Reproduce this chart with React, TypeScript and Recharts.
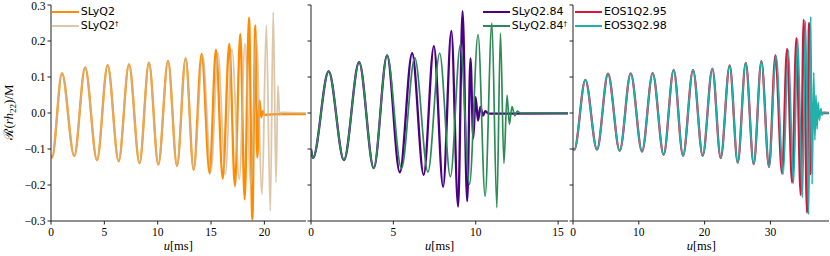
import React from 'react'
import { LineChart, Line, XAxis, YAxis } from 'recharts'

type Pt = [number, number]

// tick values
const yTicks = [-0.3, -0.2, -0.1, 0, 0.1, 0.2, 0.3]
const xTicks1 = [0, 5, 10, 15, 20]
const xTicks2 = [0, 5, 10, 15]
const xTicks3 = [0, 10, 20, 30]

// extrema of the waveforms: [u (ms), Re(r h22)/M]
const slyShared: Pt[] = [
  [0, -0.117], [0.1, -0.124], [1.03, 0.111], [2.18, -0.12], [3.2, 0.127], [4.31, -0.131],
  [5.31, 0.133], [6.34, -0.134], [7.31, 0.135], [8.3, -0.139], [9.18, 0.14], [10.06, -0.143],
  [10.97, 0.145], [11.81, -0.147], [12.62, 0.152], [13.37, -0.158],
]
const slyTail: Pt[] = [
  [14.12, 0.164], [14.87, -0.168], [15.46, 0.176], [16.1, -0.182], [16.71, 0.192], [17.24, -0.203],
  [17.74, 0.22], [18.15, -0.24], [18.56, 0.265], [18.87, -0.296], [19.15, 0.243], [19.33, -0.124],
  [19.55, 0.034], [19.7, -0.012], [19.85, 0.005], [20.0, -0.005], [21.5, -0.003], [23.9, -0.003],
]
const slyDagTail: Pt[] = [
  [14.22, 0.16], [15.0, -0.162], [15.65, 0.166], [16.34, -0.17], [16.96, 0.176], [17.65, -0.184],
  [18.18, 0.192], [18.74, -0.203], [19.24, 0.211], [19.78, -0.226], [20.18, 0.243], [20.55, -0.272],
  [20.83, 0.28], [21.09, -0.193], [21.27, 0.076], [21.43, -0.006], [21.6, 0.002], [23.9, 0],
]

const sly84Shared: Pt[] = [
  [0, -0.1], [0.12, -0.125], [1.07, 0.116], [2.0, -0.131], [2.92, 0.141], [3.81, -0.153], [4.62, 0.16],
]
const sly84Tail: Pt[] = [
  [5.39, -0.165], [6.14, 0.166], [6.84, -0.172], [7.46, 0.186], [8.02, -0.205], [8.52, 0.228],
  [8.93, -0.26], [9.2, 0.283], [9.48, -0.245], [9.68, 0.152], [9.85, -0.07], [9.99, 0.044],
  [10.14, -0.021], [10.28, 0.017], [10.44, -0.007], [10.58, 0.005], [10.8, -0.002], [15.6, -0.001],
]
const sly84DagTail: Pt[] = [
  [5.49, -0.154], [6.3, 0.153], [7.1, -0.164], [7.81, 0.166], [8.46, -0.177], [9.07, 0.19],
  [9.62, -0.198], [10.14, 0.218], [10.57, -0.231], [10.98, 0.25], [11.28, -0.263], [11.5, 0.222],
  [11.71, -0.14], [11.9, 0.05], [12.04, -0.031], [12.2, 0.018], [12.37, -0.008], [12.52, 0.005],
  [12.7, 0], [15.6, 0],
]

const eosShared: Pt[] = [
  [0, -0.098], [0.2, -0.102], [1.88, 0.092], [3.65, -0.102], [5.32, 0.109], [7.1, -0.105],
  [8.77, 0.11], [10.49, -0.107], [12.11, 0.111], [13.78, -0.116], [15.3, 0.12], [16.72, -0.119],
  [18.24, 0.12], [19.71, -0.119], [21.18, 0.123], [22.44, -0.125], [23.81, 0.132], [25.03, -0.138],
  [26.25, 0.139], [27.46, -0.142], [28.63, 0.144], [29.79, -0.15],
]
const eos1Tail: Pt[] = [
  [30.76, 0.16], [31.77, -0.168], [32.53, 0.178], [33.29, -0.193], [33.95, 0.208], [34.6, -0.228],
  [35.06, 0.259], [35.56, -0.277], [35.87, 0.25], [36.07, -0.17], [36.25, 0.03], [36.42, -0.02],
  [36.6, 0.01], [36.8, 0], [38.9, 0],
]
const eos3Tail: Pt[] = [
  [30.85, 0.158], [31.95, -0.17], [32.73, 0.175], [33.5, -0.196], [34.15, 0.205], [34.86, -0.235],
  [35.33, 0.255], [35.8, -0.282], [36.13, 0.268], [36.33, -0.198], [36.58, 0.113], [36.75, -0.075],
  [36.92, 0.05], [37.08, -0.045], [37.25, 0.03], [37.45, -0.02], [37.65, 0.012], [37.85, -0.006],
  [38.1, 0.002], [38.9, 0],
]

const rows = (pts: Pt[]) => pts.map(([u, v]) => ({ u, v }))

interface Series {
  name: string
  dagger?: boolean
  pts: Pt[]
  color: string
  width: number
  opacity?: number
}

const panel1: Series[] = [
  { name: 'SLyQ2', pts: [...slyShared, ...slyTail], color: '#ff8c00', width: 2.3 },
  { name: 'SLyQ2', dagger: true, pts: [...slyShared, ...slyDagTail], color: '#d2b48c', width: 1.8, opacity: 0.75 },
]
const panel2: Series[] = [
  { name: 'SLyQ2.84', pts: [...sly84Shared, ...sly84Tail], color: '#4b0082', width: 2.3 },
  { name: 'SLyQ2.84', dagger: true, pts: [...sly84Shared, ...sly84DagTail], color: '#2e8b57', width: 1.7 },
]
const panel3: Series[] = [
  { name: 'EOS1Q2.95', pts: [...eosShared, ...eos1Tail], color: '#dc143c', width: 2.3 },
  { name: 'EOS3Q2.98', pts: [...eosShared, ...eos3Tail], color: '#20b2aa', width: 1.7 },
]

const serif = "'Liberation Serif', 'DejaVu Serif', serif"
const sans = "'DejaVu Sans', sans-serif"
const axisColor = '#222'

const fmt = (v: number) => v.toFixed(1).replace('-', '\u2212')

interface PanelProps {
  left: number
  width: number
  yWidth: number
  xMax: number
  xTicks: number[]
  series: Series[]
  labels: boolean
}

const tickStyle = { fill: '#000', fontSize: 11.5, style: { fontFamily: serif } }

const Panel = ({ left, width, yWidth, xMax, xTicks, series, labels }: PanelProps) => (
  <div style={{ position: 'absolute', left, top: 0 }}>
    <LineChart width={width} height={256} margin={{ top: 5, right: 0, bottom: 0, left: 0 }}>
      <XAxis
        dataKey="u"
        type="number"
        domain={[0, xMax]}
        ticks={xTicks}
        allowDataOverflow
        height={35}
        tickSize={3.5}
        tickMargin={3}
        stroke={axisColor}
        tick={tickStyle}
      />
      <XAxis xAxisId="top" orientation="top" type="number" domain={[0, xMax]} height={0} tick={false} tickLine={false} stroke={axisColor} />
      <YAxis
        type="number"
        domain={[-0.3, 0.3]}
        ticks={yTicks}
        allowDataOverflow
        width={yWidth}
        tickSize={3.5}
        tickMargin={2}
        stroke={axisColor}
        tickFormatter={labels ? fmt : () => ''}
        tick={tickStyle}
      />
      <YAxis yAxisId="right" orientation="right" type="number" domain={[-0.3, 0.3]} width={0} tick={false} tickLine={false} stroke={axisColor} />
      {series.map((s, i) => (
        <Line
          key={i}
          data={rows(s.pts)}
          dataKey="v"
          type="monotone"
          stroke={s.color}
          strokeWidth={s.width}
          strokeOpacity={s.opacity ?? 1}
          dot={false}
          isAnimationActive={false}
        />
      ))}
    </LineChart>
  </div>
)

const Legend = ({ left, series }: { left: number; series: Series[] }) => (
  <div style={{ position: 'absolute', left, top: 4.7, fontFamily: sans, fontSize: 11, color: '#000' }}>
    {series.map((s, i) => (
      <div key={i} style={{ display: 'flex', alignItems: 'center', height: 14, lineHeight: '14px', whiteSpace: 'nowrap' }}>
        <span style={{ display: 'inline-block', width: 27, height: s.width, background: s.color, opacity: s.opacity ?? 1, marginRight: 2 }} />
        <span>
          {s.name}
          {s.dagger && <sup style={{ fontSize: 7, verticalAlign: 'top', lineHeight: '10px' }}>†</sup>}
        </span>
      </div>
    ))}
  </div>
)

const App = () => (
  <div style={{ position: 'absolute', left: 0, top: 0, width: 830, height: 256, background: '#fff', overflow: 'hidden' }}>
    <Panel left={0} width={306} yWidth={51} xMax={23.9} xTicks={xTicks1} series={panel1} labels />
    <Panel left={306} width={262} yWidth={5} xMax={15.6} xTicks={xTicks2} series={panel2} labels={false} />
    <Panel left={568} width={261} yWidth={5} xMax={38.9} xTicks={xTicks3} series={panel3} labels={false} />
    <Legend left={51.7} series={panel1} />
    <Legend left={482.7} series={panel2} />
    <Legend left={575} series={panel3} />
    <svg width={830} height={256} style={{ position: 'absolute', left: 0, top: 0, pointerEvents: 'none', fontFamily: serif }}>
      <text transform="translate(12.5,112) rotate(-90)" textAnchor="middle" fontSize={13} fill="#000">
        {'\u211B('}
        <tspan fontStyle="italic">rh</tspan>
        <tspan fontSize={9} dy={3}>22</tspan>
        <tspan dy={-3}>{')/M'}</tspan>
      </text>
      {[178.3, 439.7, 701.3].map((cx, i) => (
        <text key={i} x={cx} y={250} textAnchor="middle" fontSize={12.5} fill="#000">
          <tspan fontStyle="italic">u</tspan>
          {'[ms]'}
        </text>
      ))}
    </svg>
  </div>
)

export default App
